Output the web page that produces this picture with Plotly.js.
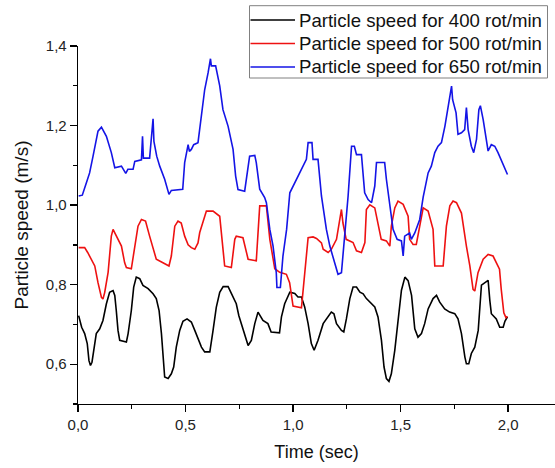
<!DOCTYPE html>
<html>
<head>
<meta charset="utf-8">
<script src="https://cdn.plot.ly/plotly-3.0.1.min.js"></script>
<style>html,body{margin:0;padding:0;background:#fff;}#chart{width:555px;height:468px;}</style>
</head>
<body>
<div id="chart"></div>
<script>
// Time (sec) and particle speed (m/s)
const t400 = [0.003,0.010,0.017,0.031,0.043,0.051,0.058,0.065,0.078,0.085,0.101,0.116,0.132,0.147,0.163,0.171,0.178,0.186,0.194,0.225,0.233,0.248,0.259,0.271,0.287,0.302,0.326,0.349,0.364,0.377,0.388,0.396,0.403,0.419,0.434,0.445,0.457,0.473,0.488,0.507,0.527,0.543,0.558,0.574,0.589,0.613,0.628,0.643,0.659,0.675,0.698,0.713,0.736,0.748,0.768,0.791,0.806,0.822,0.837,0.848,0.860,0.883,0.898,0.937,0.946,0.961,0.985,1.008,1.023,1.039,1.054,1.070,1.085,1.098,1.116,1.140,1.155,1.178,1.190,1.202,1.225,1.236,1.248,1.264,1.279,1.295,1.311,1.326,1.341,1.364,1.380,1.395,1.411,1.423,1.434,1.446,1.457,1.473,1.488,1.504,1.520,1.535,1.551,1.559,1.566,1.581,1.597,1.612,1.628,1.651,1.667,1.682,1.705,1.728,1.752,1.767,1.783,1.799,1.806,1.817,1.829,1.845,1.861,1.876,1.899,1.907,1.915,1.922,1.945,1.961,1.977,1.985,1.997];
const v400 = [0.722,0.706,0.693,0.677,0.652,0.609,0.597,0.605,0.652,0.677,0.689,0.710,0.752,0.781,0.785,0.773,0.735,0.685,0.660,0.656,0.677,0.735,0.794,0.819,0.815,0.798,0.790,0.777,0.765,0.735,0.677,0.610,0.568,0.564,0.576,0.593,0.643,0.685,0.708,0.714,0.706,0.685,0.664,0.643,0.631,0.631,0.685,0.743,0.781,0.795,0.795,0.777,0.752,0.722,0.685,0.647,0.660,0.702,0.731,0.722,0.710,0.702,0.681,0.679,0.719,0.752,0.781,0.778,0.769,0.769,0.744,0.702,0.652,0.635,0.660,0.702,0.714,0.731,0.727,0.702,0.685,0.681,0.714,0.765,0.794,0.794,0.781,0.777,0.765,0.752,0.744,0.719,0.660,0.593,0.564,0.557,0.576,0.635,0.710,0.786,0.819,0.810,0.773,0.727,0.689,0.668,0.677,0.702,0.739,0.765,0.773,0.756,0.739,0.731,0.727,0.714,0.677,0.618,0.601,0.601,0.627,0.643,0.685,0.799,0.807,0.811,0.760,0.727,0.714,0.693,0.693,0.708,0.719];

const t500 = [0.003,0.031,0.045,0.062,0.078,0.093,0.109,0.116,0.124,0.140,0.155,0.163,0.178,0.202,0.217,0.225,0.248,0.264,0.279,0.295,0.314,0.333,0.349,0.364,0.395,0.423,0.434,0.450,0.465,0.480,0.496,0.512,0.527,0.543,0.558,0.566,0.597,0.628,0.659,0.674,0.682,0.713,0.729,0.736,0.767,0.791,0.829,0.845,0.876,0.892,0.915,0.938,0.969,0.984,1.000,1.039,1.054,1.070,1.093,1.109,1.132,1.140,1.163,1.178,1.202,1.218,1.225,1.232,1.247,1.279,1.295,1.318,1.334,1.341,1.357,1.380,1.395,1.410,1.434,1.450,1.457,1.473,1.488,1.512,1.535,1.542,1.558,1.573,1.589,1.605,1.628,1.651,1.659,1.698,1.713,1.729,1.744,1.760,1.783,1.791,1.806,1.822,1.837,1.845,1.860,1.884,1.907,1.930,1.953,1.960,1.968,1.980,1.990,1.997];
const v500 = [0.893,0.893,0.881,0.864,0.847,0.805,0.768,0.764,0.780,0.831,0.922,0.939,0.922,0.897,0.855,0.843,0.840,0.897,0.947,0.964,0.960,0.922,0.889,0.864,0.855,0.847,0.872,0.947,0.960,0.955,0.922,0.900,0.893,0.889,0.905,0.931,0.985,0.985,0.972,0.897,0.847,0.843,0.914,0.922,0.918,0.864,0.860,0.998,0.998,0.914,0.840,0.831,0.826,0.805,0.746,0.742,0.831,0.918,0.920,0.916,0.905,0.889,0.881,0.889,0.914,0.960,0.989,0.955,0.914,0.906,0.885,0.881,0.906,0.989,1.001,0.993,0.955,0.914,0.910,0.897,0.947,0.993,1.010,1.002,0.972,0.914,0.901,0.901,0.947,0.993,0.985,0.939,0.847,0.847,0.947,0.998,1.010,1.006,0.980,0.947,0.897,0.847,0.788,0.784,0.830,0.864,0.876,0.872,0.847,0.839,0.788,0.729,0.717,0.720];

const t650 = [0.003,0.020,0.039,0.054,0.070,0.093,0.109,0.132,0.155,0.171,0.202,0.222,0.232,0.256,0.264,0.295,0.300,0.304,0.333,0.340,0.349,0.353,0.366,0.380,0.403,0.423,0.434,0.487,0.496,0.512,0.518,0.527,0.538,0.558,0.574,0.589,0.605,0.616,0.620,0.640,0.659,0.674,0.698,0.721,0.733,0.744,0.775,0.786,0.798,0.822,0.829,0.845,0.868,0.876,0.892,0.907,0.922,0.925,0.941,0.953,0.970,0.985,1.016,1.039,1.062,1.070,1.088,1.093,1.116,1.132,1.155,1.171,1.194,1.209,1.225,1.240,1.256,1.272,1.285,1.295,1.318,1.333,1.349,1.365,1.380,1.388,1.426,1.434,1.449,1.465,1.484,1.504,1.512,1.519,1.542,1.550,1.566,1.589,1.605,1.628,1.643,1.659,1.674,1.690,1.706,1.713,1.724,1.737,1.742,1.758,1.767,1.783,1.798,1.806,1.814,1.829,1.840,1.853,1.864,1.871,1.884,1.900,1.907,1.922,1.938,1.953,1.977,1.997];
const v650 = [1.023,1.025,1.056,1.081,1.123,1.186,1.196,1.173,1.132,1.094,1.098,1.080,1.090,1.090,1.110,1.114,1.173,1.118,1.118,1.157,1.217,1.160,1.123,1.098,1.065,1.027,1.037,1.040,1.107,1.152,1.135,1.140,1.152,1.157,1.232,1.290,1.333,1.368,1.350,1.350,1.300,1.240,1.198,1.140,1.073,1.039,1.035,1.081,1.123,1.125,1.107,1.040,1.019,1.006,0.939,0.897,0.830,0.793,0.793,0.872,0.939,1.031,1.065,1.090,1.115,1.157,1.157,1.115,1.115,1.023,0.939,0.897,0.855,0.826,0.830,0.914,1.023,1.148,1.148,1.127,1.127,1.031,1.014,1.006,1.048,1.107,1.107,1.065,1.006,0.939,0.914,0.910,0.872,0.922,0.930,0.914,0.930,0.964,1.020,1.081,1.098,1.132,1.148,1.157,1.198,1.223,1.257,1.299,1.265,1.232,1.178,1.182,1.190,1.245,1.190,1.148,1.132,1.165,1.240,1.250,1.215,1.165,1.136,1.152,1.148,1.132,1.102,1.077];

const seriesNames = ['Particle speed for 400 rot/min','Particle speed for 500 rot/min','Particle speed for 650 rot/min'];
const seriesColors = ['#000000','#ee1111','#1414e6'];
const xTitle = 'Time (sec)';
const yTitle = 'Particle speed (m/s)';

const FONT = '"Liberation Sans", Arial, Helvetica, sans-serif';
const xs = [t400, t500, t650], ys = [v400, v500, v650];
const data = xs.map((x, i) => ({
  x: x, y: ys[i], type: 'scatter', mode: 'lines', name: seriesNames[i],
  showlegend: false,
  line: {color: seriesColors[i], width: 1.6}
}));

// Legend box (framed, above the plot area), in paper coordinates
const W = 555, H = 468, M = {l: 78, r: 0, t: 46, b: 64};
const PW = W - M.l - M.r, PH = H - M.t - M.b;
const px = v => (v - M.l) / PW;          // pixel x -> paper x
const py = v => (H - M.b - v) / PH;      // pixel y -> paper y
const legRowsY = [20, 43.5, 67];
const shapes = [{
  type: 'rect', xref: 'paper', yref: 'paper',
  x0: px(249.5), x1: px(547.5), y0: py(78), y1: py(5.7),
  line: {color: '#808080', width: 1}, fillcolor: 'rgba(255,255,255,1)', layer: 'above'
}];
const annotations = [];
seriesNames.forEach((name, i) => {
  shapes.push({
    type: 'line', xref: 'paper', yref: 'paper',
    x0: px(250.5), x1: px(295), y0: py(legRowsY[i]), y1: py(legRowsY[i]),
    line: {color: seriesColors[i], width: 1.6}, layer: 'above'
  });
  annotations.push({
    xref: 'paper', yref: 'paper', x: px(296.5), y: py(legRowsY[i]),
    xanchor: 'left', yanchor: 'middle', showarrow: false, text: name,
    font: {family: FONT, size: 18.6, color: '#111'}
  });
});

const axisBase = {
  showline: true, linecolor: '#000', linewidth: 1.3, mirror: false,
  ticks: 'outside', ticklen: 7, tickwidth: 1.3, tickcolor: '#000',
  showgrid: false, zeroline: false, tickformat: '.1f',
  tickfont: {family: FONT, size: 15, color: '#222'}
};

const layout = {
  width: W, height: H,
  margin: {l: M.l, r: M.r, t: M.t, b: M.b, pad: 0},
  paper_bgcolor: '#fff', plot_bgcolor: '#fff',
  separators: ', ',
  font: {family: FONT, color: '#111'},
  showlegend: false,
  shapes: shapes,
  annotations: annotations,
  xaxis: Object.assign({}, axisBase, {
    range: [0, 2.218], tick0: 0, dtick: 0.5,
    minor: {dtick: 0.25, ticks: 'outside', ticklen: 4, tickwidth: 1.3, tickcolor: '#000', showgrid: false},
    title: {text: xTitle, font: {family: FONT, size: 18, color: '#111'}, standoff: 13}
  }),
  yaxis: Object.assign({}, axisBase, {
    range: [0.5, 1.4], tick0: 0.6, dtick: 0.2,
    minor: {dtick: 0.1, ticks: 'outside', ticklen: 4, tickwidth: 1.3, tickcolor: '#000', showgrid: false},
    title: {text: yTitle, font: {family: FONT, size: 19, color: '#111'}, standoff: 12}
  })
};

Plotly.newPlot('chart', data, layout, {displayModeBar: false, staticPlot: true});
</script>
</body>
</html>
